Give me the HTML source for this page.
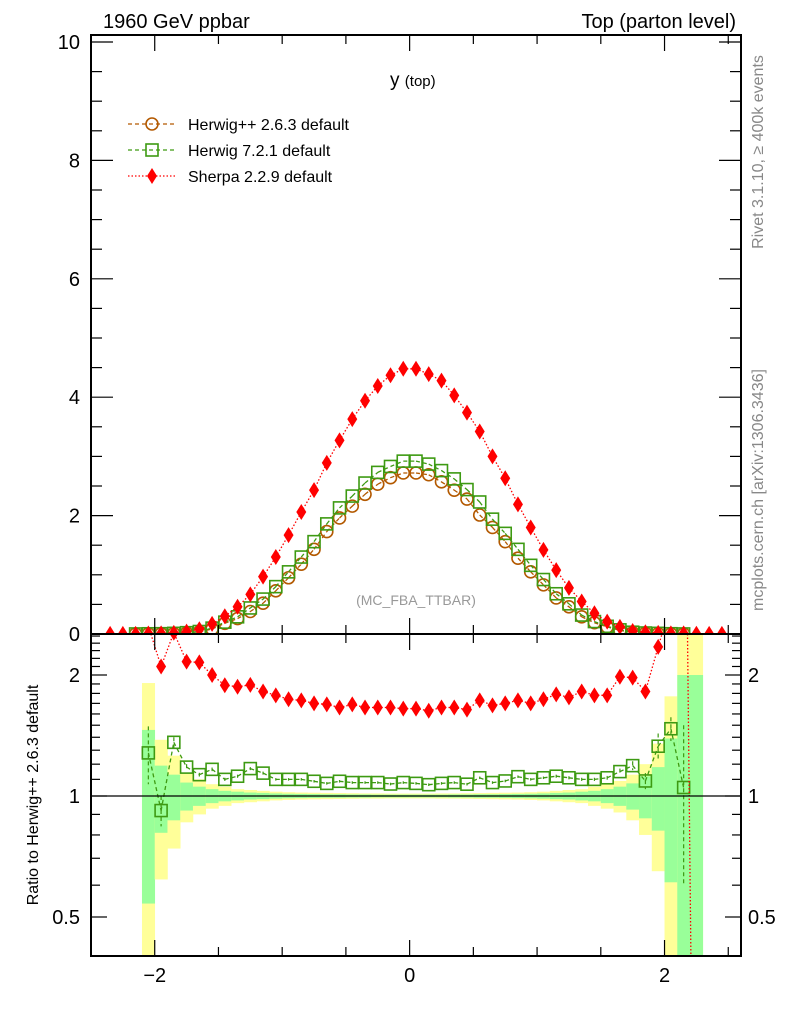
<!DOCTYPE html>
<html><head><meta charset="utf-8"><style>
html,body{margin:0;padding:0;background:#fff;width:786px;height:1024px;overflow:hidden;}
svg{display:block;font-family:"Liberation Sans",sans-serif;}
</style></head><body>
<svg id="chart" width="786" height="1024" viewBox="0 0 786 1024" xmlns="http://www.w3.org/2000/svg">
<defs>
<clipPath id="clipMain"><rect x="91" y="35" width="650" height="599"/></clipPath>
<clipPath id="clipRatio"><rect x="91" y="634" width="650" height="322"/></clipPath>
</defs>
<g id="bands" clip-path="url(#clipRatio)"></g>
<g id="mainMarks" clip-path="url(#clipMain)"></g>
<g id="ratioMarks" clip-path="url(#clipRatio)"></g>
<g id="axes"></g>
<text x="103" y="28" font-size="20">1960 GeV ppbar</text>
<text x="736" y="28" font-size="20" text-anchor="end">Top (parton level)</text>
<text x="390" y="86" font-size="19">y <tspan font-size="15">(top)</tspan></text>
<text x="416" y="605" font-size="14" fill="#999" text-anchor="middle">(MC_FBA_TTBAR)</text>
<text transform="translate(763,152) rotate(-90)" font-size="16" fill="#888" text-anchor="middle">Rivet 3.1.10, ≥ 400k events</text>
<text transform="translate(763,490) rotate(-90)" font-size="16" fill="#888" text-anchor="middle">mcplots.cern.ch [arXiv:1306.3436]</text>
<text transform="translate(38,795) rotate(-90)" font-size="16" text-anchor="middle">Ratio to Herwig++ 2.6.3 default</text>
<g id="legend"></g>
</svg>
<script>
const xCenters = [-2.35,-2.25,-2.15,-2.05,-1.95,-1.85,-1.75,-1.65,-1.55,-1.45,-1.35,-1.25,-1.15,-1.05,-0.95,-0.85,-0.75,-0.65,-0.55,-0.45,-0.35,-0.25,-0.15,-0.05,0.05,0.15,0.25,0.35,0.45,0.55,0.65,0.75,0.85,0.95,1.05,1.15,1.25,1.35,1.45,1.55,1.65,1.75,1.85,1.95,2.05,2.15,2.25,2.35,2.45];
const herwigPP = [0,0,0.001,0.003,0.005,0.008,0.019,0.037,0.085,0.18,0.26,0.38,0.52,0.73,0.95,1.18,1.43,1.73,1.96,2.16,2.36,2.53,2.64,2.72,2.72,2.69,2.57,2.43,2.28,2.01,1.80,1.56,1.28,1.05,0.83,0.61,0.46,0.29,0.19,0.12,0.06,0.025,0.016,0.0085,0.003,0.001,0,0,0];
const herwig7 = [0,0,0.001,0.004,0.005,0.011,0.022,0.042,0.099,0.20,0.29,0.44,0.59,0.80,1.05,1.30,1.56,1.86,2.13,2.33,2.55,2.73,2.83,2.92,2.92,2.87,2.76,2.62,2.44,2.23,1.94,1.70,1.43,1.16,0.92,0.68,0.51,0.32,0.21,0.13,0.07,0.03,0.017,0.011,0.0045,0.001,0,0,0];
const sherpa = [0.002,0.002,0.003,0.008,0.01,0.02,0.04,0.08,0.17,0.30,0.46,0.67,0.97,1.30,1.67,2.06,2.43,2.89,3.27,3.63,3.94,4.19,4.37,4.48,4.48,4.39,4.28,4.03,3.74,3.42,3.0,2.63,2.19,1.80,1.42,1.08,0.78,0.55,0.35,0.21,0.12,0.05,0.03,0.02,0.01,0.01,0.005,0.002,0.002];
const ratioH7 = [null,null,null,1.28,0.92,1.36,1.18,1.13,1.165,1.10,1.12,1.17,1.14,1.10,1.10,1.10,1.088,1.075,1.088,1.08,1.08,1.08,1.071,1.08,1.075,1.067,1.075,1.08,1.07,1.11,1.08,1.09,1.117,1.10,1.11,1.12,1.11,1.10,1.10,1.11,1.15,1.19,1.09,1.33,1.47,1.05,null,null,null];
const ratioH7Err = [null,null,null,0.21,0.08,0.04,0.02,0.012,0.012,0.01,0.01,0.01,0.01,0.008,0.008,0.008,0.008,0.008,0.008,0.008,0.008,0.008,0.008,0.008,0.008,0.008,0.008,0.008,0.008,0.008,0.008,0.008,0.008,0.008,0.008,0.01,0.01,0.01,0.01,0.012,0.02,0.03,0.05,0.1,0.1,0.45,null,null,null];
const ratioSherpa = [null,null,null,2.65,2.10,2.55,2.16,2.15,2.0,1.886,1.87,1.89,1.82,1.78,1.74,1.73,1.70,1.69,1.66,1.69,1.66,1.66,1.66,1.65,1.65,1.63,1.66,1.66,1.64,1.73,1.68,1.70,1.73,1.70,1.74,1.79,1.76,1.82,1.78,1.78,1.98,1.97,1.82,2.35,3.0,20,0.02,null,null];
const bandGreen = [null,null,null,0.46,0.19,0.13,0.08,0.055,0.04,0.03,0.025,0.02,0.018,0.015,0.013,0.012,0.011,0.01,0.01,0.009,0.009,0.008,0.008,0.008,0.008,0.008,0.008,0.009,0.009,0.01,0.01,0.011,0.012,0.013,0.015,0.018,0.02,0.025,0.03,0.04,0.055,0.075,0.12,0.18,0.39,1.0,1.0,null,null];
const bandYellow = [null,null,null,0.91,0.38,0.26,0.14,0.10,0.07,0.055,0.04,0.035,0.03,0.025,0.022,0.02,0.019,0.018,0.017,0.016,0.015,0.015,0.014,0.014,0.014,0.014,0.015,0.015,0.016,0.017,0.018,0.019,0.02,0.022,0.025,0.03,0.035,0.04,0.055,0.07,0.09,0.13,0.20,0.35,0.77,1.8,1.8,null,null];
const mainYTicks = [0,2,4,6,8,10];
const xTicks = [-2,0,2];
const xTickLabels = ["\u22122","0","2"];
const ratioTicks = [0.5,1,2];
const ratioTickLabels = ["0.5","1","2"];
const binWidth = 0.1;

const NS = "http://www.w3.org/2000/svg";
const X0 = 91, X1 = 741, XMIN = -2.5, XMAX = 2.6;
const MT = 35, MB = 634, RB = 956;
function xs(v){ return X0 + (v - XMIN) / (XMAX - XMIN) * (X1 - X0); }
function ym(v){ return 634 - v * 59.2; }
function yr(v){ return 796 - 121 * Math.log2(Math.max(v, 1e-6)); }
function clampR(y){ return Math.max(MB, Math.min(RB, y)); }
function mk(tag, attrs, parent){ const e = document.createElementNS(NS, tag); for (const k in attrs) e.setAttribute(k, attrs[k]); parent.appendChild(e); return e; }

const bands = document.getElementById('bands');
for (let i = 0; i < xCenters.length; i++) {
  if (bandYellow[i] == null) continue;
  const xa = xs(xCenters[i] - binWidth/2), xb = xs(xCenters[i] + binWidth/2);
  const yu = clampR(yr(1 + bandYellow[i])), yd = bandYellow[i] >= 1 ? RB : clampR(yr(1 - bandYellow[i]));
  const r1 = mk('rect', {x: xa, y: yu, width: xb - xa + 0.3, height: yd - yu, fill: '#ffff99'}, bands);
  
  
  const gu = clampR(yr(1 + bandGreen[i])), gd = bandGreen[i] >= 1 ? RB : clampR(yr(1 - bandGreen[i]));
  const r2 = mk('rect', {x: xa, y: gu, width: xb - xa + 0.3, height: gd - gu, fill: '#99ff99'}, bands);
  
  
}

function marker(type, cx, cy, parent, name){
  let e;
  if (type === 'circle') e = mk('circle', {cx: cx, cy: cy, r: 6, fill: 'none', stroke: '#b35900', 'stroke-width': 1.6}, parent);
  else if (type === 'square') e = mk('rect', {x: cx - 6, y: cy - 6, width: 12, height: 12, fill: 'none', stroke: '#3d9a12', 'stroke-width': 1.6}, parent);
  else e = mk('polygon', {points: `${cx},${cy-8} ${cx+5},${cy} ${cx},${cy+8} ${cx-5},${cy}`, fill: '#ff0000'}, parent);
  
  
}
// clip a segment to y range [lo, hi]
function clipSeg(x1, y1, x2, y2, lo, hi){
  function cut(xa, ya, xb, yb, yc){ const t = (yc - ya) / (yb - ya); return [xa + t * (xb - xa), yc]; }
  if ((y1 < lo && y2 < lo) || (y1 > hi && y2 > hi)) return null;
  let a = [x1, y1], b = [x2, y2];
  if (a[1] < lo) a = cut(x1, y1, x2, y2, lo);
  if (a[1] > hi) a = cut(x1, y1, x2, y2, hi);
  if (b[1] < lo) b = cut(x1, y1, x2, y2, lo);
  if (b[1] > hi) b = cut(x1, y1, x2, y2, hi);
  return [a, b];
}
function series(parent, vals, yf, color, dash, type, name, filter, lo, hi){
  let d = '';
  let prev = null;
  for (let i = 0; i < xCenters.length; i++) {
    if (vals[i] == null) { prev = null; continue; }
    const cur = [xs(xCenters[i]), yf(vals[i])];
    if (prev) {
      const s = clipSeg(prev[0], prev[1], cur[0], cur[1], lo, hi);
      if (s) d += 'M' + s[0][0].toFixed(1) + ' ' + s[0][1].toFixed(1) + 'L' + s[1][0].toFixed(1) + ' ' + s[1][1].toFixed(1);
    }
    prev = cur;
  }
  const p = mk('path', {d: d, fill: 'none', stroke: color, 'stroke-width': 1.3, 'stroke-dasharray': dash}, parent);
  
  
  for (let i = 0; i < xCenters.length; i++) {
    if (vals[i] == null || !filter(vals[i])) continue;
    marker(type, xs(xCenters[i]), yf(vals[i]), parent, name + '-point');
  }
}
const mm = document.getElementById('mainMarks');
series(mm, herwigPP, ym, '#b35900', '4 3', 'circle', 'herwigpp', v => v > 0, MT, MB);
series(mm, herwig7, ym, '#3d9a12', '4 3', 'square', 'herwig7', v => v > 0, MT, MB);
series(mm, sherpa, ym, '#ff0000', '1.5 2', 'diamond', 'sherpa', v => v > 0, MT, MB);

const rm = document.getElementById('ratioMarks');
for (let i = 0; i < xCenters.length; i++) {
  if (ratioH7[i] == null) continue;
  const x = xs(xCenters[i]);
  const eb = mk('line', {x1: x, x2: x, y1: clampR(yr(ratioH7[i] + ratioH7Err[i])), y2: clampR(yr(ratioH7[i] - ratioH7Err[i])), stroke: '#3d9a12', 'stroke-width': 1.2, 'stroke-dasharray': '4 3'}, rm);
  
  
}
series(rm, ratioH7, yr, '#3d9a12', '4 3', 'square', 'herwig7-ratio', v => true, MB, RB);
series(rm, ratioSherpa, yr, '#ff0000', '1.5 2', 'diamond', 'sherpa-ratio', v => v < 2.6 && v > 0.38, MB, RB);
const ref = mk('line', {x1: X0, x2: X1, y1: yr(1), y2: yr(1), stroke: '#000', 'stroke-width': 1.3}, rm);



const ax = document.getElementById('axes');
function L(x1,y1,x2,y2,w,name){ const e = mk('line', {x1:x1,y1:y1,x2:x2,y2:y2,stroke:'#000','stroke-width':w}, ax);   }
function T(x,y,s,anchor,size,name){ const e = mk('text', {x:x,y:y,'font-size':size,'text-anchor':anchor}, ax); e.textContent = s;   }
const fr = mk('rect', {x: X0, y: MT, width: X1 - X0, height: RB - MT, fill: 'none', stroke: '#000', 'stroke-width': 2}, ax);


L(X0, MB, X1, MB, 2, 'panel-divider');
for (let v = 0; v <= 10.01; v += 0.5) {
  const y = ym(v), major = Math.abs(v - Math.round(v / 2) * 2) < 1e-6;
  const len = major ? 22 : 11;
  L(X0, y, X0 + len, y, 1.2, 'main-y-tick');
  L(X1, y, X1 - len, y, 1.2, 'main-y-tick-right');
}
mainYTicks.forEach(v => T(80, ym(v) + 7, String(v), 'end', 20, 'main-y-tick-label'));
for (let v = -2.5; v <= 2.51; v += 0.5) {
  const x = xs(v), major = Math.abs(v - Math.round(v)) < 1e-6 && Math.round(v) % 2 === 0;
  const len = major ? 16 : 9;
  L(x, MT, x, MT + len, 1.2, 'x-tick-top');
  L(x, MB, x, MB - len, 1.2, 'x-tick-main-bottom');
  L(x, MB, x, MB + len, 1.2, 'x-tick-ratio-top');
  L(x, RB, x, RB - len, 1.2, 'x-tick-bottom');
}
xTicks.forEach((v, i) => T(xs(v), 982, xTickLabels[i], 'middle', 20, 'x-tick-label'));
for (let v = 0.4; v <= 2.51; v += 0.1) {
  const y = yr(v);
  if (y < MB || y > RB) continue;
  const major = ratioTicks.some(t => Math.abs(t - v) < 1e-6);
  const len = major ? 16 : 9;
  L(X0, y, X0 + len, y, 1.2, 'ratio-y-tick');
  L(X1, y, X1 - len, y, 1.2, 'ratio-y-tick-right');
}
ratioTicks.forEach((v, i) => {
  T(80, yr(v) + 7, ratioTickLabels[i], 'end', 20, 'ratio-y-tick-label');
  T(748, yr(v) + 7, ratioTickLabels[i], 'start', 20, 'ratio-y-tick-label-right');
});

const lg = document.getElementById('legend');
const legendItems = [['circle', '#b35900', '4 3', 'Herwig++ 2.6.3 default'], ['square', '#3d9a12', '4 3', 'Herwig 7.2.1 default'], ['diamond', '#ff0000', '1.5 2', 'Sherpa 2.2.9 default']];
legendItems.forEach((it, i) => {
  const y = 124 + i * 26;
  const g = mk('g', {}, lg);
  
  
  mk('line', {x1: 128, x2: 176, y1: y, y2: y, stroke: it[1], 'stroke-width': 1.3, 'stroke-dasharray': it[2]}, g);
  marker(it[0], 152, y, g, 'legend-marker');
  const t = mk('text', {x: 188, y: y + 6, 'font-size': 16}, g);
  t.textContent = it[3];
});
</script>
</body></html>
